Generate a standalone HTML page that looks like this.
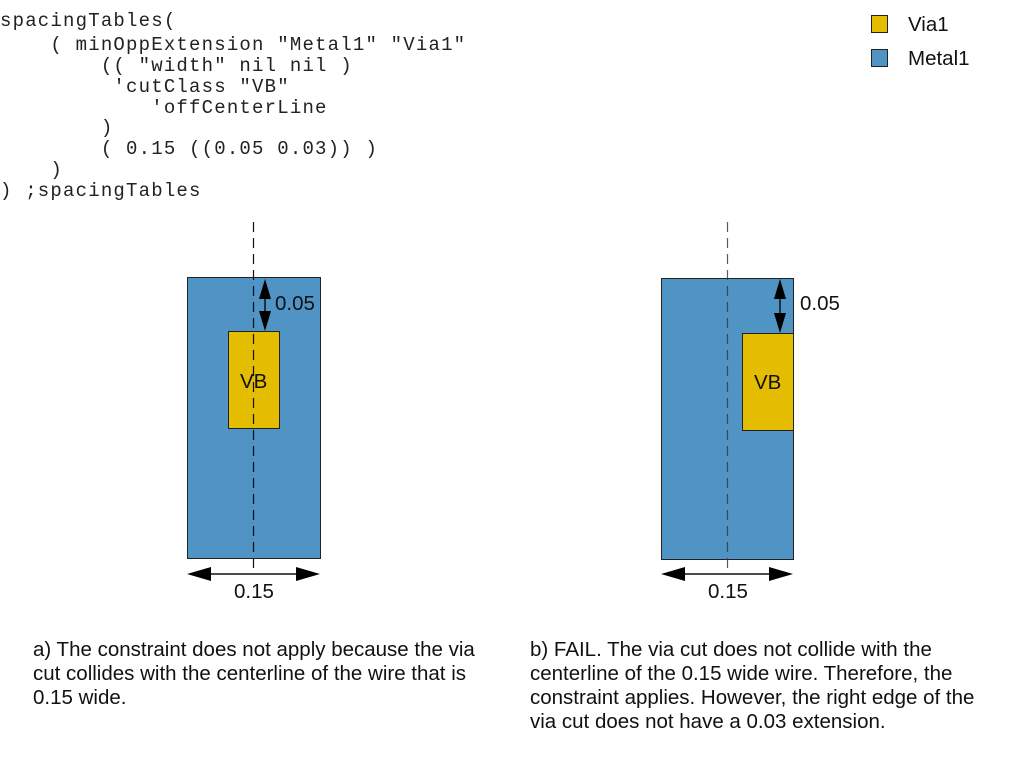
<!DOCTYPE html>
<html><head><meta charset="utf-8"><style>
html,body{margin:0;padding:0;background:#fff;width:1015px;height:778px;overflow:hidden}
svg{display:block}
.code{font-family:"Liberation Mono",monospace;font-size:19px;fill:#222;letter-spacing:1.2px;white-space:pre}
.t{font-family:"Liberation Sans",sans-serif;font-size:20.5px;fill:#111}
</style></head><body>
<svg width="1015" height="778" xmlns="http://www.w3.org/2000/svg">
<g class="code">
<text x="0" y="26">spacingTables(</text>
<text x="0" y="50">&#160;&#160;&#160;&#160;( minOppExtension "Metal1" "Via1"</text>
<text x="0" y="71">&#160;&#160;&#160;&#160;&#160;&#160;&#160;&#160;(( "width" nil nil )</text>
<text x="0" y="92">&#160;&#160;&#160;&#160;&#160;&#160;&#160;&#160;&#160;'cutClass "VB"</text>
<text x="0" y="113">&#160;&#160;&#160;&#160;&#160;&#160;&#160;&#160;&#160;&#160;&#160;&#160;'offCenterLine</text>
<text x="0" y="133">&#160;&#160;&#160;&#160;&#160;&#160;&#160;&#160;)</text>
<text x="0" y="154">&#160;&#160;&#160;&#160;&#160;&#160;&#160;&#160;( 0.15 ((0.05 0.03)) )</text>
<text x="0" y="175">&#160;&#160;&#160;&#160;)</text>
<text x="0" y="196">) ;spacingTables</text>
</g>
<rect x="871.5" y="15.5" width="16" height="17" fill="#e4bc00" stroke="#222"/>
<text class="t" x="908" y="31">Via1</text>
<rect x="871.5" y="49.5" width="16" height="17" fill="#4f94c4" stroke="#222"/>
<text class="t" x="908" y="65">Metal1</text>

<rect x="187.5" y="277.5" width="133" height="281" fill="#4f94c4" stroke="#222"/>
<rect x="228.5" y="331.5" width="51" height="97" fill="#e4bc00" stroke="#222"/>
<line x1="253.5" y1="222" x2="253.5" y2="572" stroke="#111" stroke-width="1.2" stroke-dasharray="10,6"/>
<text class="t" x="240" y="388">VB</text>
<line x1="265" y1="290" x2="265" y2="320" stroke="#111" stroke-width="1.5"/>
<polygon points="265,279 259,299 271,299" fill="#000"/>
<polygon points="265,331 259,311 271,311" fill="#000"/>
<text class="t" x="275" y="310">0.05</text>
<line x1="200" y1="574" x2="308" y2="574" stroke="#111" stroke-width="1.5"/>
<polygon points="187,574 211,567 211,581" fill="#000"/>
<polygon points="320,574 296,567 296,581" fill="#000"/>
<text class="t" x="234" y="598">0.15</text>

<rect x="661.5" y="278.5" width="132" height="281" fill="#4f94c4" stroke="#222"/>
<rect x="742.5" y="333.5" width="51" height="97" fill="#e4bc00" stroke="#222"/>
<line x1="727.5" y1="222" x2="727.5" y2="572" stroke="#333" stroke-width="1.2" stroke-dasharray="10,6" opacity="0.8"/>
<text class="t" x="754" y="389">VB</text>
<line x1="780" y1="290" x2="780" y2="322" stroke="#111" stroke-width="1.5"/>
<polygon points="780,279 774,299 786,299" fill="#000"/>
<polygon points="780,333 774,313 786,313" fill="#000"/>
<text class="t" x="800" y="310">0.05</text>
<line x1="674" y1="574" x2="781" y2="574" stroke="#111" stroke-width="1.5"/>
<polygon points="661,574 685,567 685,581" fill="#000"/>
<polygon points="793,574 769,567 769,581" fill="#000"/>
<text class="t" x="708" y="598">0.15</text>

<text class="t" x="33" y="656">a) The constraint does not apply because the via</text>
<text class="t" x="33" y="680">cut collides with the centerline of the wire that is</text>
<text class="t" x="33" y="704">0.15 wide.</text>
<text class="t" x="530" y="656">b) FAIL. The via cut does not collide with the</text>
<text class="t" x="530" y="680">centerline of the 0.15 wide wire. Therefore, the</text>
<text class="t" x="530" y="704">constraint applies. However, the right edge of the</text>
<text class="t" x="530" y="728">via cut does not have a 0.03 extension.</text>
</svg>
</body></html>
